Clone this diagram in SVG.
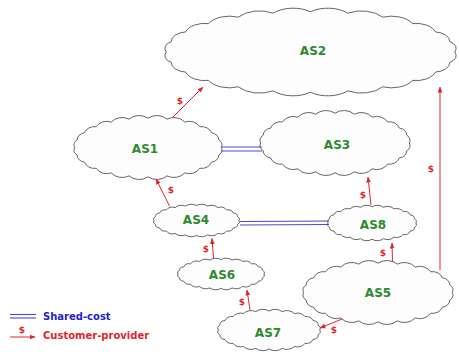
<svg xmlns="http://www.w3.org/2000/svg" xmlns:xlink="http://www.w3.org/1999/xlink" width="459" height="352" viewBox="0 0 459 352">
<style>
.cl{fill:#fdfdfd;stroke:#4a4a4a;stroke-width:0.85;vector-effect:non-scaling-stroke}
.lbl{font-family:"DejaVu Sans",sans-serif;font-weight:bold;font-size:12px;fill:#2d8a2d;text-anchor:middle}
.cp{stroke:#e0262a;stroke-width:1;fill:none}
.usd{font-family:"DejaVu Sans",sans-serif;font-weight:bold;font-size:9px;fill:#e0262a;text-anchor:middle}
.sc{stroke:#4a4ad0;stroke-width:1.1;fill:none}
.leg{font-family:"DejaVu Sans",sans-serif;font-weight:bold;font-size:10px}
</style>
<defs>
<path id="cloud" class="cl" d="M 90 0 A 8.5 8.5 0 0 1 86.9 10.9 A 10.1 10.1 0 0 1 77.9 21 A 12.5 12.5 0 0 1 63.6 29.7 A 14.9 14.9 0 0 1 45 36.4 A 16.6 16.6 0 0 1 23.3 40.6 A 17.5 17.5 0 0 1 0 42 A 17.5 17.5 0 0 1 -23.3 40.6 A 16.6 16.6 0 0 1 -45 36.4 A 14.9 14.9 0 0 1 -63.6 29.7 A 12.5 12.5 0 0 1 -77.9 21 A 10.1 10.1 0 0 1 -86.9 10.9 A 8.5 8.5 0 0 1 -90 0 A 8.5 8.5 0 0 1 -86.9 -10.9 A 10.1 10.1 0 0 1 -77.9 -21 A 12.5 12.5 0 0 1 -63.6 -29.7 A 14.9 14.9 0 0 1 -45 -36.4 A 16.6 16.6 0 0 1 -23.3 -40.6 A 17.5 17.5 0 0 1 0 -42 A 17.5 17.5 0 0 1 23.3 -40.6 A 16.6 16.6 0 0 1 45 -36.4 A 14.9 14.9 0 0 1 63.6 -29.7 A 12.5 12.5 0 0 1 77.9 -21 A 10.1 10.1 0 0 1 86.9 -10.9 A 8.5 8.5 0 0 1 90 0 Z"/>
<marker id="ah" markerUnits="userSpaceOnUse" markerWidth="6" markerHeight="6" viewBox="0 0 6 6" refX="5.5" refY="3" orient="auto">
<path d="M0 0.6 L6 3 L0 5.4 Z" fill="#e0262a"/>
</marker>
</defs>

<g id="AS2"><use xlink:href="#cloud" transform="translate(310.5 52) scale(1.603 0.957)"/><text class="lbl" x="313" y="54.5" font-size="13">AS2</text></g>
<g id="AS1"><use xlink:href="#cloud" transform="translate(148 147.5) scale(0.815 0.699)"/><text class="lbl" x="145" y="152.5">AS1</text></g>
<g id="AS3"><use xlink:href="#cloud" transform="translate(335 143) scale(0.826 0.71)"/><text class="lbl" x="337" y="148.5">AS3</text></g>
<g id="AS4"><use xlink:href="#cloud" transform="translate(196.5 220.5) scale(0.473 0.355)"/><text class="lbl" x="196" y="223.5">AS4</text></g>
<g id="AS8"><use xlink:href="#cloud" transform="translate(372 223) scale(0.489 0.387)"/><text class="lbl" x="373" y="228.5">AS8</text></g>
<g id="AS6"><use xlink:href="#cloud" transform="translate(221 274) scale(0.478 0.344)"/><text class="lbl" x="222" y="278.5">AS6</text></g>
<g id="AS5"><use xlink:href="#cloud" transform="translate(378 292.5) scale(0.826 0.699)"/><text class="lbl" x="378" y="296.5">AS5</text></g>
<g id="AS7"><use xlink:href="#cloud" transform="translate(269 330) scale(0.565 0.452)"/><text class="lbl" x="268" y="336.5">AS7</text></g>

<g id="connectors">
<line class="sc" x1="221" y1="147" x2="262" y2="147"/>
<line class="sc" x1="221" y1="151" x2="262" y2="151"/>
<line class="sc" x1="240" y1="221.5" x2="329" y2="221"/>
<line class="sc" x1="240" y1="225" x2="329" y2="224.5"/>

<line class="cp" x1="172" y1="118" x2="203" y2="87" marker-end="url(#ah)"/>
<line class="cp" x1="169.5" y1="206" x2="156" y2="179" marker-end="url(#ah)"/>
<line class="cp" x1="371" y1="205" x2="368" y2="177" marker-end="url(#ah)"/>
<line class="cp" x1="440" y1="270" x2="440" y2="87" marker-end="url(#ah)"/>
<line class="cp" x1="213.5" y1="258" x2="212" y2="238.5" marker-end="url(#ah)"/>
<line class="cp" x1="392.5" y1="262" x2="392" y2="243" marker-end="url(#ah)"/>
<line class="cp" x1="250" y1="310" x2="247" y2="290" marker-end="url(#ah)"/>
<line class="cp" x1="342" y1="319" x2="320" y2="328" marker-end="url(#ah)"/>

<text class="usd" x="180" y="104">$</text>
<text class="usd" x="171" y="193">$</text>
<text class="usd" x="363" y="198">$</text>
<text class="usd" x="431" y="172">$</text>
<text class="usd" x="206" y="252">$</text>
<text class="usd" x="383" y="256">$</text>
<text class="usd" x="242" y="305">$</text>
<text class="usd" x="334" y="333">$</text>
</g>

<g id="legend">
<line class="sc" x1="10" y1="314.5" x2="36" y2="314.5"/>
<line class="sc" x1="10" y1="318" x2="36" y2="318"/>
<text class="leg" x="43" y="320" fill="#2323c8">Shared-cost</text>
<line class="cp" x1="10" y1="337" x2="35" y2="337" marker-end="url(#ah)"/>
<text class="usd" x="22" y="333" font-size="8">$</text>
<text class="leg" x="43" y="338.5" fill="#e0262a">Customer-provider</text>
</g>
</svg>
